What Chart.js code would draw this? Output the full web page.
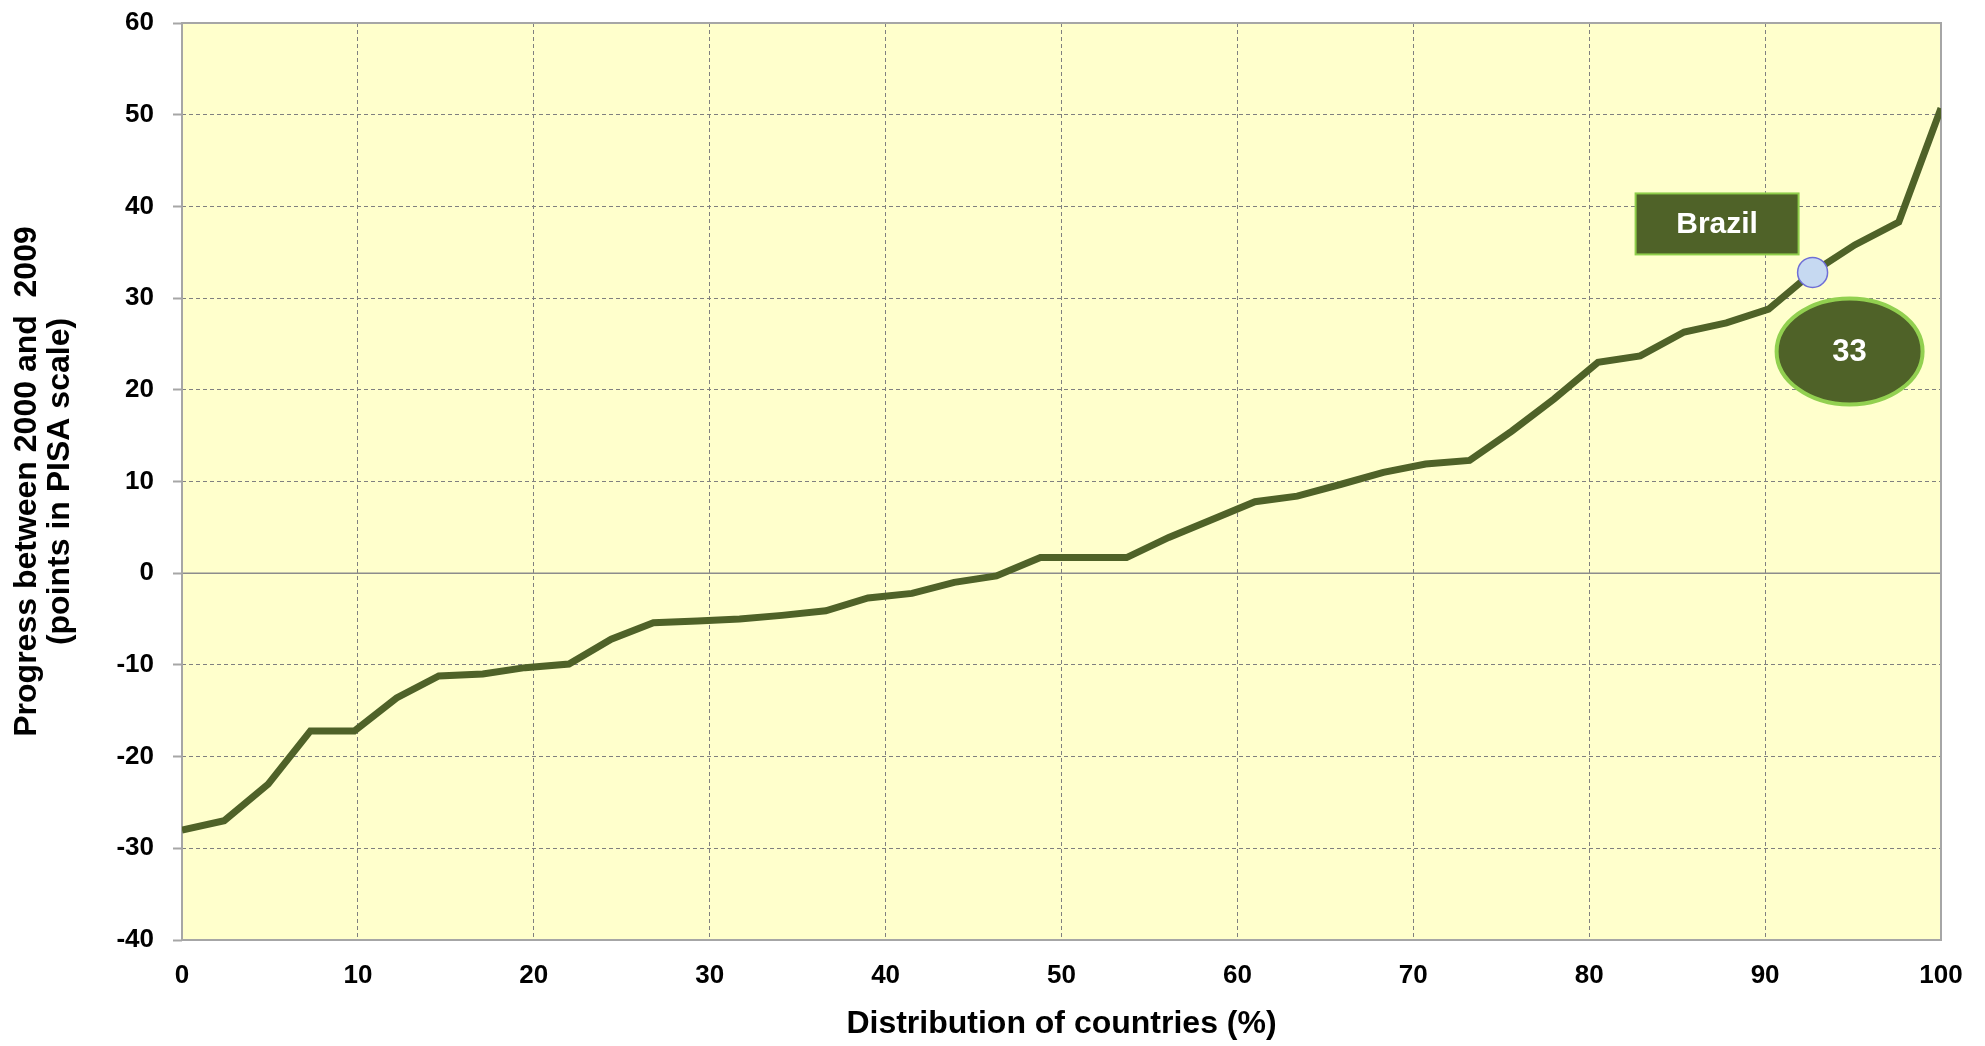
<!DOCTYPE html>
<html>
<head>
<meta charset="utf-8">
<script src="https://cdn.jsdelivr.net/npm/chart.js@4.4.1/dist/chart.umd.min.js"></script>
<style>
  body { margin: 0; background: #ffffff; }
  #wrap { width: 1985px; height: 1046px; position: relative; }
</style>
</head>
<body>
<div id="wrap"><canvas id="pisaChart"></canvas></div>
<script>
// distribution of countries (%) - one point per country
const distribution = [0, 2.4, 4.9, 7.3, 9.8, 12.2, 14.6, 17.1, 19.5, 22.0, 24.4, 26.8, 29.3, 31.7,
    34.1, 36.6, 39.0, 41.5, 43.9, 46.3, 48.8, 51.2, 53.7, 56.1, 58.5, 61.0, 63.4, 65.9,
    68.3, 70.7, 73.2, 75.6, 78.0, 80.5, 82.9, 85.4, 87.8, 90.2, 92.7, 95.1, 97.6, 100];

// progress between 2000 and 2009 (PISA points)
const progress = [-28.0, -27.0, -23.0, -17.2, -17.2, -13.6, -11.2, -11.0, -10.3, -9.9, -7.2, -5.4, -5.2, -5.0,
    -4.6, -4.1, -2.7, -2.2, -1.0, -0.3, 1.7, 1.7, 1.7, 3.9, 5.8, 7.8, 8.4, 9.7,
    11.0, 11.9, 12.3, 15.5, 19.0, 23.0, 23.7, 26.3, 27.3, 28.8, 32.8, 35.8, 38.3, 50.7];

const highlightIndex = 38;
const highlightName = 'Brazil';
const highlightLabel = '33';

const yTicks = [-40, -30, -20, -10, 0, 10, 20, 30, 40, 50, 60];
const xTicks = [0, 10, 20, 30, 40, 50, 60, 70, 80, 90, 100];

const olive = '#4f6228';
const fontFamily = '"Liberation Sans", Arial, sans-serif';

const points = distribution.map((x, i) => ({ x: x, y: progress[i] }));

// yellow plot area, solid zero line and frame
const plotDecor = {
    id: 'plotDecor',
    beforeDraw(chart) {
        const { ctx, chartArea: a } = chart;
        ctx.save();
        ctx.fillStyle = '#ffffcc';
        ctx.fillRect(a.left, a.top, a.right - a.left, a.bottom - a.top);
        ctx.restore();
    },
    beforeDatasetsDraw(chart) {
        const { ctx, chartArea: a, scales } = chart;
        const y0 = scales.y.getPixelForValue(0);
        ctx.save();
        ctx.strokeStyle = '#8c8c8c';
        ctx.lineWidth = 1.5;
        ctx.beginPath();
        ctx.moveTo(a.left, y0);
        ctx.lineTo(a.right, y0);
        ctx.stroke();
        ctx.strokeStyle = '#a6a6a6';
        ctx.lineWidth = 2;
        ctx.strokeRect(a.left, a.top, a.right - a.left, a.bottom - a.top);
        ctx.restore();
    }
};

// "Brazil" box and the "33" bubble next to the highlighted point
const callout = {
    id: 'callout',
    afterDatasetsDraw(chart) {
        const { ctx, scales } = chart;
        const px = scales.x.getPixelForValue(distribution[highlightIndex]);
        const py = scales.y.getPixelForValue(progress[highlightIndex]);
        ctx.save();

        const bw = 163, bh = 61;
        const bx = px - 14 - bw, by = py - 18 - bh;
        ctx.fillStyle = olive;
        ctx.fillRect(bx, by, bw, bh);
        ctx.strokeStyle = '#8fce4a';
        ctx.lineWidth = 2;
        ctx.strokeRect(bx, by, bw, bh);
        ctx.fillStyle = '#ffffff';
        ctx.font = 'bold 30px ' + fontFamily;
        ctx.textAlign = 'center';
        ctx.textBaseline = 'middle';
        ctx.fillText(highlightName, bx + bw / 2, by + bh / 2 + 1);

        const ex = px + 37, ey = py + 79;
        ctx.beginPath();
        ctx.ellipse(ex, ey, 73, 53, 0, 0, Math.PI * 2);
        ctx.fillStyle = olive;
        ctx.fill();
        ctx.strokeStyle = '#92d050';
        ctx.lineWidth = 4;
        ctx.stroke();
        ctx.fillStyle = '#ffffff';
        ctx.font = 'bold 31px ' + fontFamily;
        ctx.fillText(highlightLabel, ex, ey + 1);

        ctx.restore();
    }
};

const config = {
    type: 'line',
    data: {
        datasets: [{
            data: points,
            borderColor: olive,
            borderWidth: 7,
            fill: false,
            tension: 0,
            pointRadius: (c) => c.dataIndex === highlightIndex ? 15 : 0,
            pointBackgroundColor: '#c6d9f1',
            pointBorderColor: '#6f6fd6',
            pointBorderWidth: 1.5,
            pointHoverRadius: 0
        }]
    },
    options: {
        responsive: true,
        maintainAspectRatio: false,
        animation: false,
        layout: { padding: { top: 23, right: 44, bottom: 0, left: 0 } },
        plugins: {
            legend: { display: false },
            tooltip: { enabled: false }
        },
        scales: {
            x: {
                type: 'linear',
                min: 0,
                max: 100,
                afterBuildTicks: (s) => { s.ticks = xTicks.map(v => ({ value: v })); },
                afterFit: (s) => { s.height = 106; },
                border: { display: false, dash: [4, 3] },
                grid: {
                    color: '#808080',
                    lineWidth: 1,
                    drawTicks: false
                },
                ticks: {
                    color: '#000000',
                    padding: 20,
                    maxRotation: 0,
                    font: { family: fontFamily, size: 26, weight: 'bold' }
                },
                title: {
                    display: true,
                    text: 'Distribution of countries (%)',
                    color: '#000000',
                    padding: { top: 0, bottom: 3 },
                    font: { family: fontFamily, size: 32, weight: 'bold' }
                }
            },
            y: {
                min: -40,
                max: 60,
                afterBuildTicks: (s) => { s.ticks = yTicks.map(v => ({ value: v })); },
                afterFit: (s) => {
                    s.width = 182;
                    s.paddingTop = 0;
                    s.paddingBottom = 0;
                },
                border: { display: false, dash: [4, 3] },
                grid: {
                    color: '#808080',
                    lineWidth: 1,
                    tickLength: 9,
                    tickColor: '#a6a6a6',
                    tickBorderDash: [],
                    tickWidth: 2
                },
                ticks: {
                    color: '#000000',
                    padding: 19,
                    font: { family: fontFamily, size: 26, weight: 'bold' }
                },
                title: {
                    display: true,
                    text: ['Progress between 2000 and  2009', '(points in PISA scale)'],
                    color: '#000000',
                    padding: { top: 10, bottom: 0 },
                    font: { family: fontFamily, size: 32, weight: 'bold', lineHeight: 1.05 }
                }
            }
        }
    },
    plugins: [plotDecor, callout]
};

new Chart(document.getElementById('pisaChart').getContext('2d'), config);
</script>
</body>
</html>
